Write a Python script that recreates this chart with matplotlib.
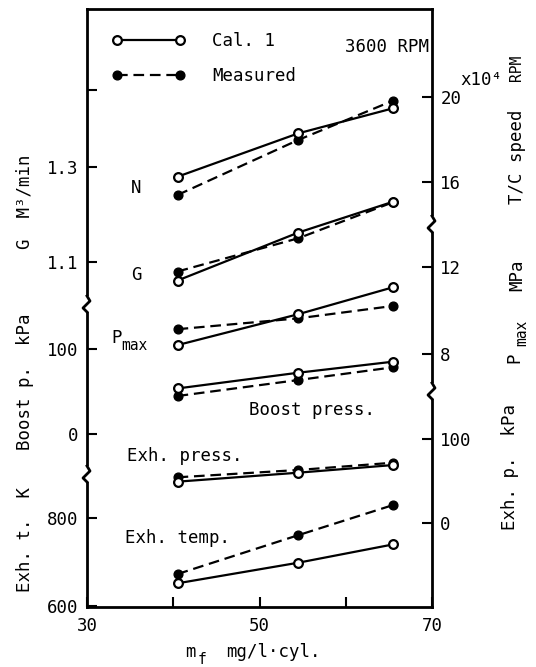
import matplotlib
matplotlib.use("Agg")
import matplotlib.pyplot as plt
from matplotlib.patches import Rectangle

plt.rcParams['font.family'] = ['DejaVu Sans Mono', 'DejaVu Sans']

# ---------------- data ----------------
mf = [40.5, 54.5, 65.5]                      # mg/l.cyl

tc_cal = [16.25, 18.29, 19.47]               # T/C speed x10^4 RPM
tc_meas = [15.39, 17.98, 19.83]
g_cal = [1.061, 1.162, 1.227]                # G m^3/min
g_meas = [1.080, 1.150, 1.226]
pmax_cal = [8.41, 9.83, 11.07]               # Pmax MPa
pmax_meas = [9.14, 9.64, 10.21]
boost_cal = [53.6, 72.1, 85.1]               # Boost p. kPa
boost_meas = [44.7, 63.5, 78.5]
exhp_cal = [49.2, 59.9, 69.0]                # Exh. p. kPa
exhp_meas = [54.4, 63.1, 71.8]
exht_cal = [651.6, 698.4, 740.0]             # Exh. t. K
exht_meas = [672.7, 761.0, 829.5]

x_ticks = [30, 40, 50, 60, 70]
x_ticklabels = ['30', '', '50', '', '70']

# ---------------- layout ----------------
W, H = 536, 667
L, R, T, B = 87, 432, 9, 607
fig = plt.figure(figsize=(W / 100, H / 100), dpi=100)
ax = fig.add_axes([L / W, 1 - B / H, (R - L) / W, (B - T) / H])
ax.set_xlim(30, 70)
ax.set_ylim(0, 1)
ax.set_yticks([])
ax.set_xticks(x_ticks)
ax.set_xticklabels(x_ticklabels)
ax.tick_params(axis='x', direction='in', length=7, width=1.5, pad=7, labelsize=12.5)
for s in ax.spines.values():
    s.set_linewidth(2.0)


def lims(v1, p1, v2, p2):
    slope = (v2 - v1) / (p1 - p2)
    return v1 - (B - p1) * slope, v1 + (p1 - T) * slope


def make_axis(v1, p1, v2, p2, side, ticks, labels):
    a = ax.twinx()
    a.set_ylim(*lims(v1, p1, v2, p2))
    a.patch.set_visible(False)
    for s in a.spines.values():
        s.set_visible(False)
    a.yaxis.set_ticks_position(side)
    a.yaxis.set_label_position(side)
    a.set_yticks(ticks)
    a.set_yticklabels(labels)
    a.tick_params(axis='y', direction='in', length=7, width=1.5, pad=6, labelsize=12.5)
    return a


a_exht = make_axis(600, 606, 800, 518, 'left', [600, 800], ['600', '800'])
a_boost = make_axis(0, 434, 100, 349, 'left', [0, 100], ['0', '100'])
a_g = make_axis(1.1, 262, 1.3, 167, 'left', [1.1, 1.3, 1.462], ['1.1', '1.3', ''])
a_tc = make_axis(20, 97, 16, 182, 'right', [16, 20], ['16', '20'])
a_pmax = make_axis(12, 267, 8, 354, 'right', [8, 12], ['8', '12'])
a_exhp = make_axis(100, 439, 0, 523, 'right', [0, 100], ['0', '100'])

lw = 1.6
cal_kw = dict(color='black', lw=lw, marker='o', ms=6.3, mfc='white', mec='black', mew=1.6, zorder=4)
meas_kw = dict(color='black', lw=lw, ls=(0, (4.8, 2.6)), marker='o', ms=6.3, mfc='black', mec='black', zorder=3)

pairs = [(a_tc, tc_cal, tc_meas), (a_g, g_cal, g_meas), (a_pmax, pmax_cal, pmax_meas),
         (a_boost, boost_cal, boost_meas), (a_exhp, exhp_cal, exhp_meas), (a_exht, exht_cal, exht_meas)]
handles = None
for a, c, m in pairs:
    hm, = a.plot(mf, m, **meas_kw)
    hc, = a.plot(mf, c, **cal_kw)
    if handles is None:
        handles = [hc, hm]

leg = ax.legend(handles, ['Cal. 1', 'Measured'], loc='upper left',
                bbox_to_anchor=((112 - L) / (R - L), 1 - (32 - T) / (B - T)),
                frameon=False, numpoints=2, handlelength=4.2, handletextpad=1.55,
                labelspacing=1.0, borderpad=0, borderaxespad=0, fontsize=12.5)
leg.set_zorder(10)


# ---------------- text ----------------
def px(x, y):
    return x / W, 1 - y / H


fs = 12.5
sub = 10.5
fig.text(*px(345, 47), '3600 RPM', fontsize=fs, ha='left', va='center')
fig.text(*px(136, 188), 'N', fontsize=fs, ha='center', va='center')
fig.text(*px(136, 275), 'G', fontsize=fs, ha='center', va='center')
fig.text(*px(111, 338), 'P', fontsize=fs, ha='left', va='center')
fig.text(*px(121, 346), 'max', fontsize=sub, ha='left', va='center')
fig.text(*px(249, 410), 'Boost press.', fontsize=fs, ha='left', va='center')
fig.text(*px(127, 456), 'Exh. press.', fontsize=fs, ha='left', va='center')
fig.text(*px(125, 538), 'Exh. temp.', fontsize=fs, ha='left', va='center')

fig.text(*px(25, 202), 'G  M³/min', fontsize=fs, rotation=90, ha='center', va='center')
fig.text(*px(25, 382), 'Boost p.  kPa', fontsize=fs, rotation=90, ha='center', va='center')
fig.text(*px(25, 540), 'Exh. t.  K', fontsize=fs, rotation=90, ha='center', va='center')

fig.text(*px(481, 80), 'x10⁴', fontsize=fs, ha='center', va='center')
fig.text(*px(517, 68), 'RPM', fontsize=10.5, rotation=90, ha='center', va='center')
fig.text(*px(517, 157), 'T/C speed', fontsize=fs, rotation=90, ha='center', va='center')
fig.text(*px(517, 275), 'MPa', fontsize=fs, rotation=90, ha='center', va='center')
fig.text(*px(514, 358), 'P', fontsize=fs, rotation=90, ha='center', va='center')
fig.text(*px(522, 333), 'max', fontsize=sub, rotation=90, ha='center', va='center')
fig.text(*px(510, 467), 'Exh. p.  kPa', fontsize=fs, rotation=90, ha='center', va='center')

fig.text(*px(185, 652), 'm', fontsize=fs, ha='left', va='center')
fig.text(*px(198, 659), 'f', fontsize=sub, ha='left', va='center')
fig.text(*px(226, 652), 'mg/l·cyl.', fontsize=fs, ha='left', va='center')


# ---------------- axis breaks ----------------
def axis_break(xside, ypix):
    xs = L if xside == 'left' else R
    pts = [(0, -12), (3, -7), (-4, 0), (0, 4)]
    fig.patches.append(Rectangle(((xs - 6) / W, 1 - (ypix + 4) / H), 12 / W, 16 / H,
                                 transform=fig.transFigure, facecolor='white',
                                 edgecolor='none', zorder=20))
    xx = [(xs + dx) / W for dx, dy in pts]
    yy = [1 - (ypix + dy) / H for dx, dy in pts]
    fig.lines.append(plt.Line2D(xx, yy, transform=fig.transFigure, color='black',
                                lw=2.0, zorder=21))


axis_break('left', 308)
axis_break('left', 478)
axis_break('right', 228)
axis_break('right', 395)

fig.savefig('out.png', dpi=100)
